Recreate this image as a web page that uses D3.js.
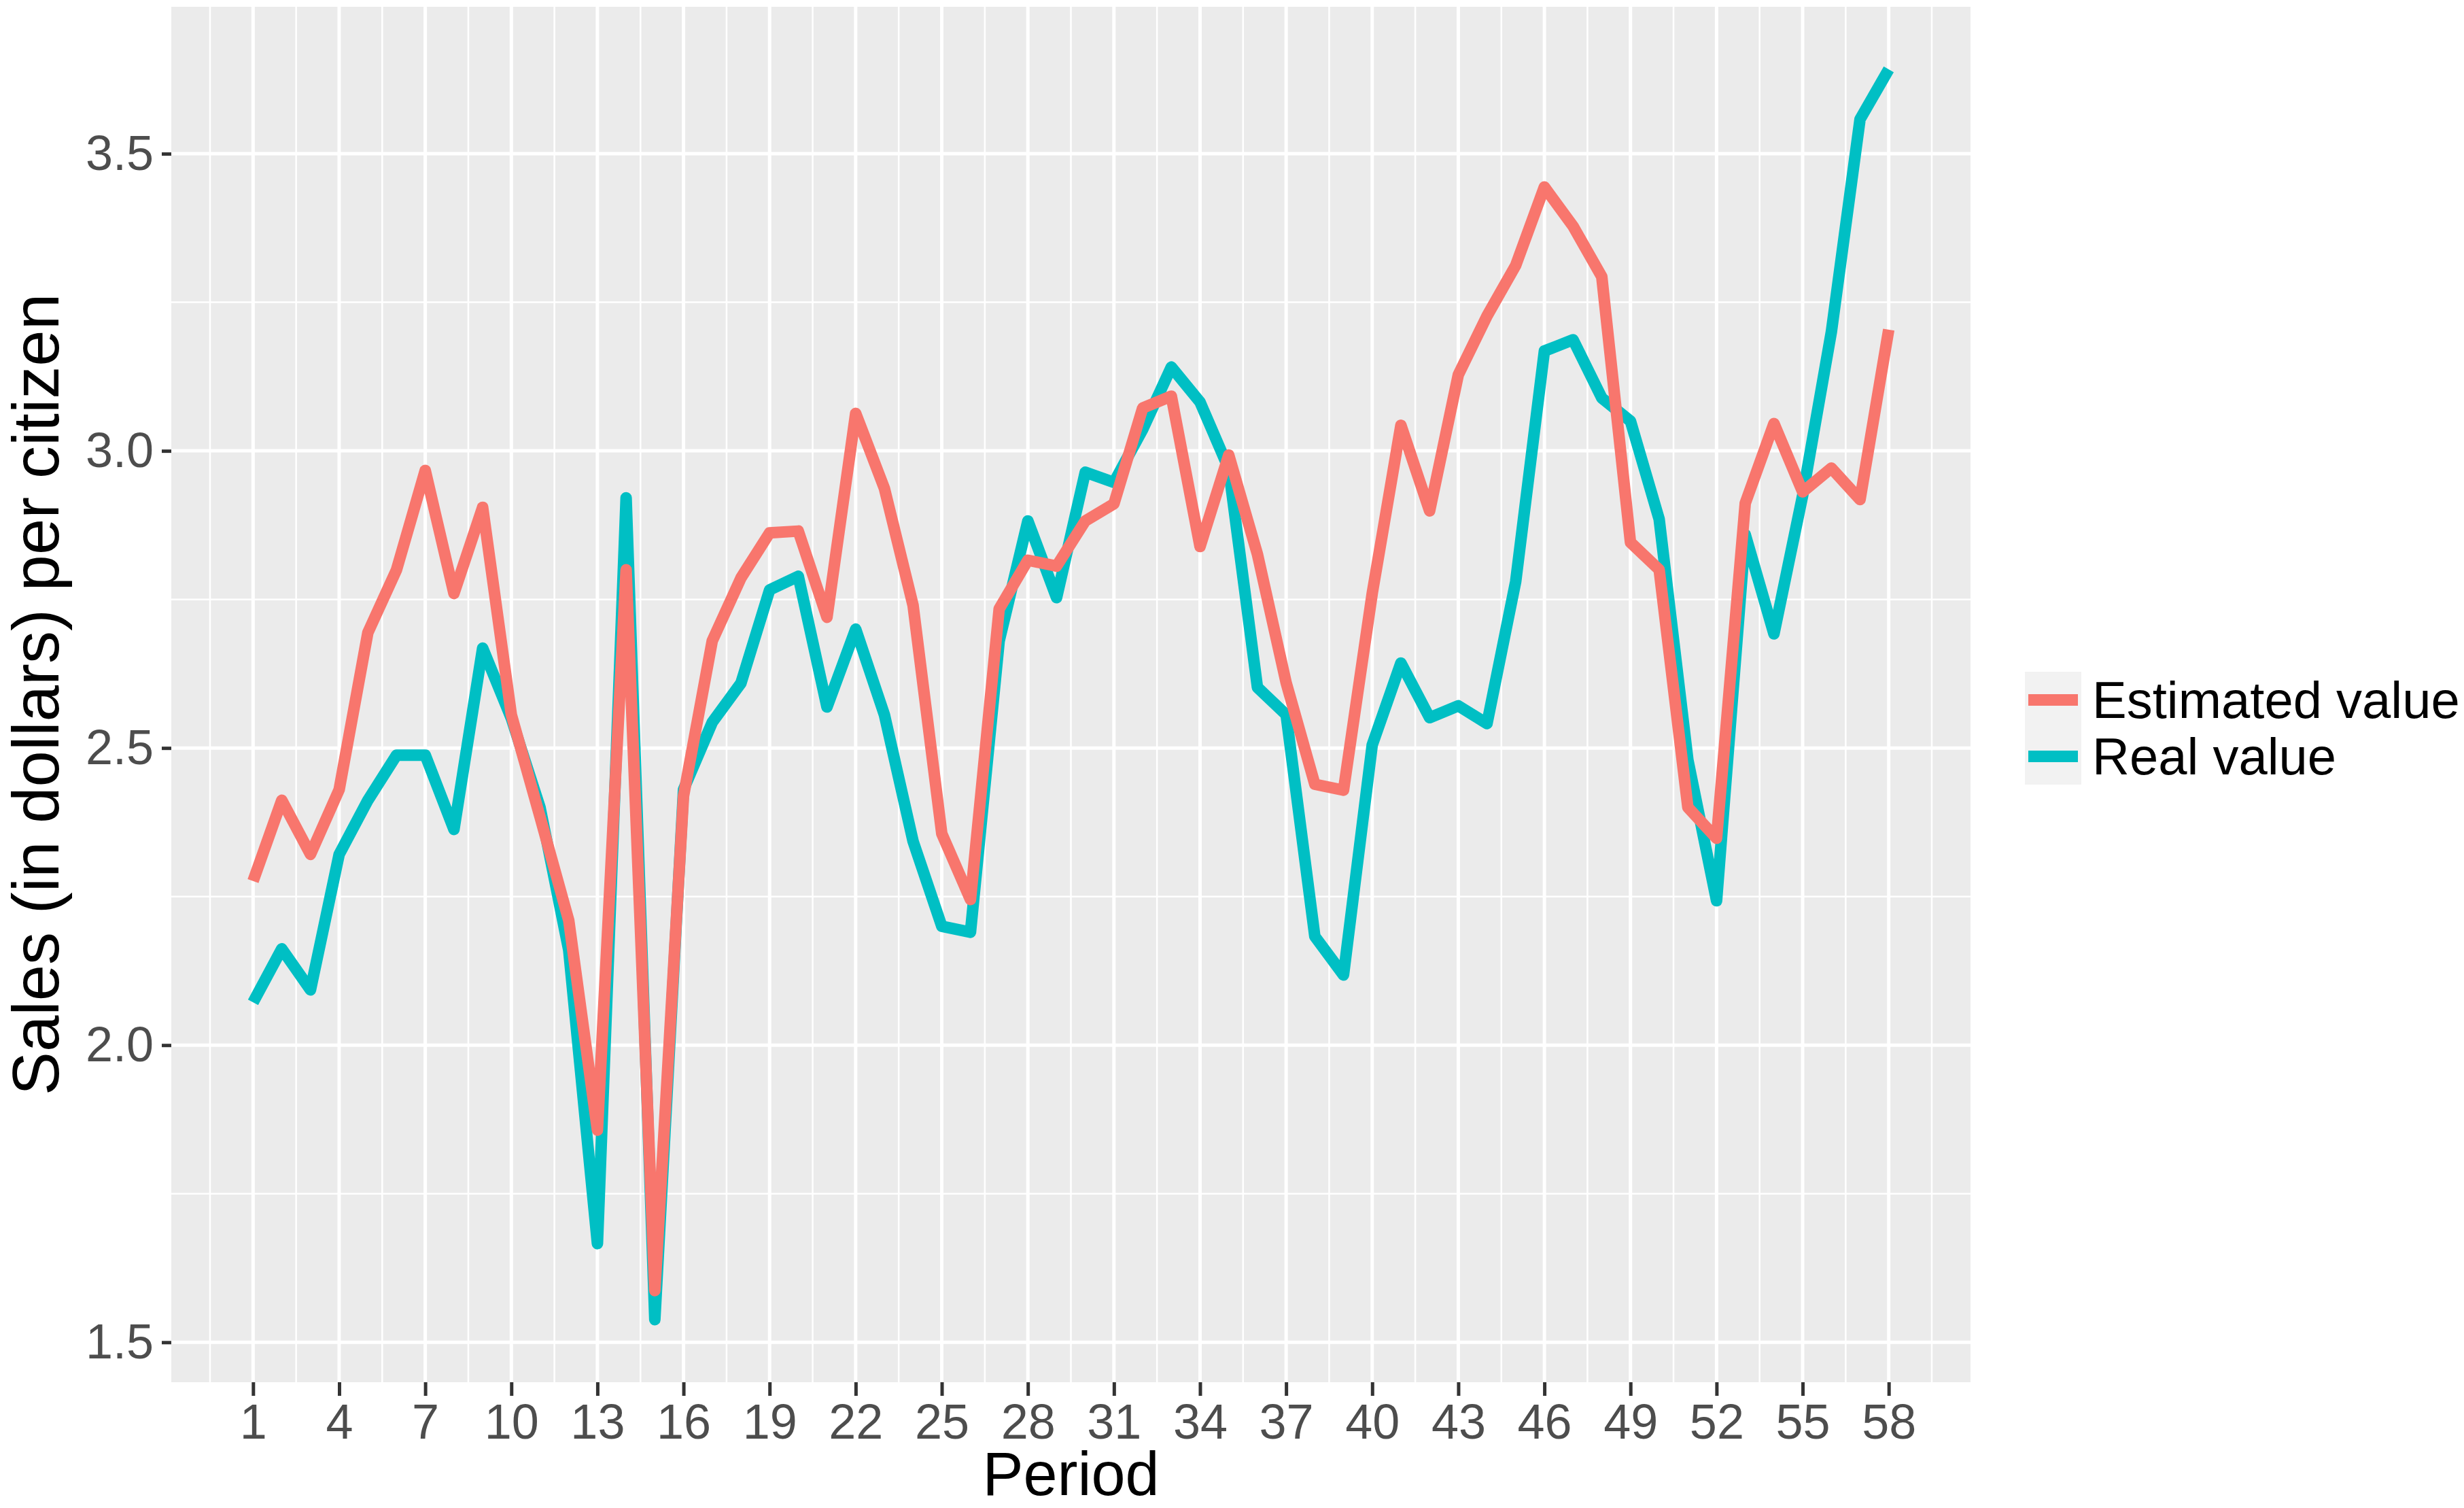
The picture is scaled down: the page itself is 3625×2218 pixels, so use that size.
<!DOCTYPE html>
<html>
  <head>
    <meta charset='utf-8' />
    <title>Sales per citizen</title>
    <style>
      body {
        margin: 0;
        background-color: white;
      }
      text {
        font-family: "Liberation Sans", Arial, Helvetica, sans-serif;
      }
    </style>
  </head>
<body>
  <svg id="svgContainer" width="3625" height="2218"></svg>

  <script src="https://d3js.org/d3.v7.min.js"></script>
  <script>
    const periods = d3.range(1, 59);

    const estimatedValue = [
      2.276, 2.412, 2.321, 2.430, 2.694, 2.800, 2.967, 2.760, 2.905, 2.556,
      2.384, 2.210, 1.857, 2.800, 1.587, 2.419, 2.680, 2.786, 2.862, 2.865,
      2.720, 3.063, 2.937, 2.740, 2.356, 2.245, 2.734, 2.816, 2.806, 2.882,
      2.911, 3.072, 3.092, 2.839, 2.993, 2.826, 2.610, 2.439, 2.429, 2.760,
      3.043, 2.899, 3.128, 3.227, 3.312, 3.444, 3.378, 3.293, 2.846, 2.800,
      2.400, 2.348, 2.912, 3.046, 2.931, 2.971, 2.918, 3.204
    ];

    const realValue = [
      2.072, 2.162, 2.093, 2.321, 2.412, 2.488, 2.488, 2.363, 2.668, 2.550,
      2.400, 2.160, 1.666, 2.921, 1.538, 2.430, 2.543, 2.609, 2.766, 2.789,
      2.569, 2.700, 2.556, 2.343, 2.200, 2.190, 2.680, 2.882, 2.753, 2.964,
      2.947, 3.036, 3.141, 3.082, 2.970, 2.602, 2.556, 2.183, 2.118, 2.505,
      2.643, 2.551, 2.571, 2.541, 2.780, 3.168, 3.187, 3.089, 3.050, 2.885,
      2.480, 2.243, 2.859, 2.692, 2.925, 3.200, 3.558, 3.642
    ];

    const xTicks = d3.range(1, 59, 3);
    const yTicks = [1.5, 2.0, 2.5, 3.0, 3.5];
    const seriesNames = ["Estimated value", "Real value"];
    const seriesColors = ["#F8766D", "#00BFC4"];

    let svg = d3.select("#svgContainer");

    let panelLeft = 252;
    let panelRight = 2899;
    let panelTop = 10;
    let panelBottom = 2033;

    // ggplot style 5% expansion on both axes
    let xExp = (d3.max(periods) - d3.min(periods)) * 0.05;
    const xScale = d3.scaleLinear()
                     .domain([d3.min(periods) - xExp, d3.max(periods) + xExp])
                     .range([panelLeft, panelRight]);

    let allValues = estimatedValue.concat(realValue);
    let yExp = (d3.max(allValues) - d3.min(allValues)) * 0.05;
    const yScale = d3.scaleLinear()
                     .domain([d3.min(allValues) - yExp, d3.max(allValues) + yExp])
                     .range([panelBottom, panelTop]);

    // panel
    svg.append("rect")
       .attr("x", panelLeft)
       .attr("y", panelTop)
       .attr("width", panelRight - panelLeft)
       .attr("height", panelBottom - panelTop)
       .attr("fill", "#EBEBEB");

    // minor grid
    let xMinor = xTicks.map(d => d - 1.5).concat([d3.max(xTicks) + 1.5]);
    let yMinor = yTicks.slice(0, -1).map(d => d + 0.25);

    svg.append("g").selectAll("line")
       .data(xMinor)
       .enter()
       .append("line")
       .attr("x1", d => xScale(d))
       .attr("x2", d => xScale(d))
       .attr("y1", panelTop)
       .attr("y2", panelBottom)
       .attr("stroke", "white")
       .attr("stroke-width", 2.5);

    svg.append("g").selectAll("line")
       .data(yMinor)
       .enter()
       .append("line")
       .attr("x1", panelLeft)
       .attr("x2", panelRight)
       .attr("y1", d => yScale(d))
       .attr("y2", d => yScale(d))
       .attr("stroke", "white")
       .attr("stroke-width", 2.5);

    // major grid
    svg.append("g").selectAll("line")
       .data(xTicks)
       .enter()
       .append("line")
       .attr("x1", d => xScale(d))
       .attr("x2", d => xScale(d))
       .attr("y1", panelTop)
       .attr("y2", panelBottom)
       .attr("stroke", "white")
       .attr("stroke-width", 5);

    svg.append("g").selectAll("line")
       .data(yTicks)
       .enter()
       .append("line")
       .attr("x1", panelLeft)
       .attr("x2", panelRight)
       .attr("y1", d => yScale(d))
       .attr("y2", d => yScale(d))
       .attr("stroke", "white")
       .attr("stroke-width", 5);

    // axes
    const xAxis = d3.axisBottom(xScale)
                    .tickValues(xTicks)
                    .tickSize(20)
                    .tickPadding(12)
                    .tickFormat(d3.format("d"));

    const yAxis = d3.axisLeft(yScale)
                    .tickValues(yTicks)
                    .tickSize(14)
                    .tickPadding(12)
                    .tickFormat(d3.format(".1f"));

    let gx = svg.append("g")
       .attr("id", "x-axis")
       .attr("transform", "translate(0," + panelBottom + ")")
       .call(xAxis);

    let gy = svg.append("g")
       .attr("id", "y-axis")
       .attr("transform", "translate(" + panelLeft + ",0)")
       .call(yAxis);

    [gx, gy].forEach(g => {
      g.select(".domain").remove();
      g.selectAll(".tick line").attr("stroke", "#333333").attr("stroke-width", 5);
      g.selectAll(".tick text")
       .attr("fill", "#4D4D4D")
       .style("font-size", "72px")
       .style("font-family", "'Liberation Sans', Arial, sans-serif");
    });
    gx.selectAll(".tick text").attr("dy", "0.71em");

    // lines, real first so estimated sits on top
    const line = d3.line()
                   .x((d, i) => xScale(periods[i]))
                   .y(d => yScale(d));

    [[realValue, seriesColors[1]], [estimatedValue, seriesColors[0]]].forEach(s => {
      svg.append("path")
         .datum(s[0])
         .attr("d", line)
         .attr("fill", "none")
         .attr("stroke", s[1])
         .attr("stroke-width", 17)
         .attr("stroke-linejoin", "round")
         .attr("stroke-linecap", "butt");
    });

    // axis titles
    svg.append("text")
       .attr("x", (panelLeft + panelRight) / 2)
       .attr("y", 2199)
       .attr("text-anchor", "middle")
       .style("font-size", "90px")
       .attr("fill", "black")
       .text("Period");

    svg.append("text")
       .attr("transform", "translate(86," + ((panelTop + panelBottom) / 2) + ") rotate(-90)")
       .attr("text-anchor", "middle")
       .style("font-size", "96px")
       .attr("fill", "black")
       .text("Sales (in dollars) per citizen");

    // legend
    let legend = svg.append("g").attr("id", "legend");
    let keyX = 2979;
    let keyTop = 988;
    let keySize = 83;

    seriesNames.forEach((name, i) => {
      let cy = keyTop + i * keySize + keySize / 2;
      legend.append("rect")
            .attr("x", keyX)
            .attr("y", keyTop + i * keySize)
            .attr("width", keySize)
            .attr("height", keySize)
            .attr("fill", "#F2F2F2");
      legend.append("line")
            .attr("x1", keyX + 5)
            .attr("x2", keyX + keySize - 5)
            .attr("y1", cy)
            .attr("y2", cy)
            .attr("stroke", seriesColors[i])
            .attr("stroke-width", 17);
      legend.append("text")
            .attr("x", 3078)
            .attr("y", cy)
            .attr("dy", "0.355em")
            .style("font-size", "76px")
            .attr("fill", "black")
            .text(name);
    });
  </script>
</body>
</html>
